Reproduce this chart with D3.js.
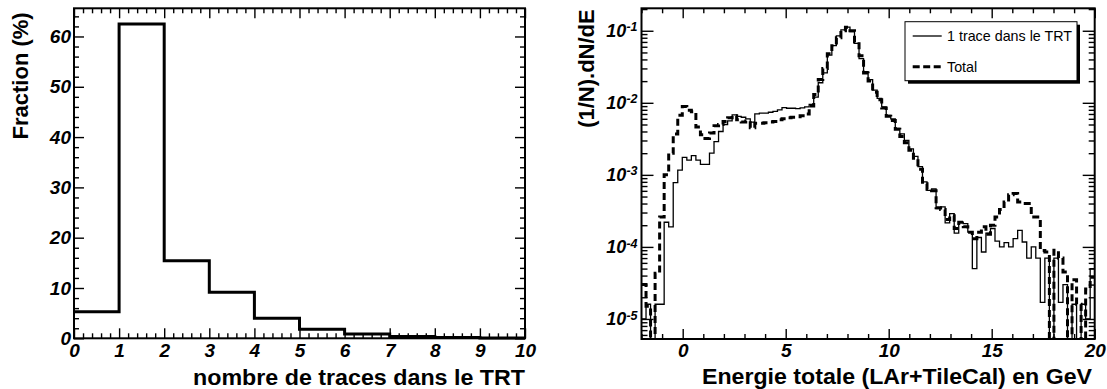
<!DOCTYPE html>
<html>
<head>
<meta charset="utf-8">
<script src="https://cdn.jsdelivr.net/npm/d3@7"></script>
<style>
    body { margin: 0; background: #fff; }
    svg { display: block; font-family: "Liberation Sans", Arial, Helvetica, sans-serif; }
    .lbl { font-weight: bold; font-style: italic; font-size: 19px; fill: #000; }
    .title { font-weight: bold; font-size: 22px; fill: #000; }
    .legend-text { font-size: 14.3px; fill: #000; }
</style>
</head>
<body>
<svg id="chart" width="1107" height="389"></svg>
<script>
/* ========================================
   Two ROOT-style histograms:
   left  = number of TRT tracks (fraction, %)
   right = total energy (LAr+TileCal), log scale
   ======================================== */

// --- Left panel data ---
const trackBins = [0, 1, 2, 3, 4, 5, 6, 7, 8, 9, 10];          // bin edges
const trackFraction = [5.3, 62.5, 15.4, 9.15, 4.0, 1.8, 0.85, 0.35, 0.15, 0.08];
const leftXTicks = [0, 1, 2, 3, 4, 5, 6, 7, 8, 9, 10];
const leftYTicks = [0, 10, 20, 30, 40, 50, 60];

// --- Right panel data (100 bins from -2 to 20 GeV) ---
const energyRange = [-2, 20];
const energyBinCount = 100;
const oneTrack = [
    1.0e-5, 1.6e-5, 0, 1.6e-5, 1.6e-5, 2.2e-4, 1.9e-4, 7.8e-4, 1.16e-3, 1.75e-3,
    1.6e-3, 1.85e-3, 1.6e-3, 1.4e-3, 1.4e-3, 2.0e-3, 2.9e-3, 4.0e-3, 5.0e-3, 5.6e-3,
    6.8e-3, 6.5e-3, 6.3e-3, 6.0e-3, 5.4e-3, 7.0e-3, 7.2e-3, 7.2e-3, 7.4e-3, 7.6e-3,
    8.0e-3, 8.6e-3, 8.4e-3, 8.4e-3, 8.3e-3, 8.5e-3, 8.8e-3, 9.5e-3, 1.2e-2, 1.9e-2,
    2.6e-2, 4.6e-2, 6.2e-2, 8.5e-2, 1.03e-1, 1.12e-1, 9.7e-2, 6.7e-2, 4.1e-2, 2.7e-2,
    2.1e-2, 1.5e-2, 1.15e-2, 8.8e-3, 6.7e-3, 6.0e-3, 4.4e-3, 3.7e-3, 3.0e-3, 2.3e-3,
    1.8e-3, 1.3e-3, 8.0e-4, 6.1e-4, 6.4e-4, 3.4e-4, 3.6e-4, 2.15e-4, 2.9e-4, 1.55e-4,
    2.2e-4, 2.1e-4, 1.6e-4, 5.0e-5, 1.35e-4, 8.5e-5, 1.55e-4, 1.8e-4, 1.2e-4, 1.0e-4,
    1.15e-4, 1.0e-4, 1.3e-4, 1.7e-4, 1.17e-4, 7.0e-5, 1.0e-4, 7.0e-5, 1.7e-5, 7.0e-5,
    0, 7.0e-5, 1.7e-5, 3.0e-5, 0, 1.6e-5, 0, 1.6e-5, 1.0e-5, 5.0e-5
];
const totalAll = [
    3.0e-5, 1.5e-5, 0, 4.3e-5, 2.6e-4, 1.0e-3, 2.0e-3, 3.7e-3, 6.7e-3, 8.9e-3,
    7.9e-3, 7.5e-3, 4.6e-3, 3.6e-3, 3.2e-3, 3.8e-3, 4.8e-3, 5.0e-3, 5.5e-3, 6.2e-3,
    6.6e-3, 5.8e-3, 5.4e-3, 5.6e-3, 4.5e-3, 5.2e-3, 5.2e-3, 5.3e-3, 5.4e-3, 5.5e-3,
    5.8e-3, 6.0e-3, 6.2e-3, 6.3e-3, 6.4e-3, 6.6e-3, 7.0e-3, 9.0e-3, 1.3e-2, 2.1e-2,
    3.0e-2, 4.8e-2, 6.2e-2, 8.0e-2, 1.0e-1, 1.12e-1, 1.0e-1, 7.0e-2, 4.5e-2, 2.6e-2,
    2.0e-2, 1.4e-2, 1.1e-2, 8.5e-3, 6.5e-3, 5.7e-3, 4.3e-3, 3.4e-3, 2.8e-3, 2.2e-3,
    1.7e-3, 1.2e-3, 7.5e-4, 6.3e-4, 6.0e-4, 3.5e-4, 3.3e-4, 2.4e-4, 2.7e-4, 1.8e-4,
    2.2e-4, 1.9e-4, 1.6e-4, 1.3e-4, 1.6e-4, 1.9e-4, 1.5e-4, 2.0e-4, 2.6e-4, 3.3e-4,
    4.2e-4, 5.3e-4, 5.5e-4, 4.2e-4, 4.0e-4, 4.0e-4, 2.6e-4, 2.6e-4, 8.9e-5, 8.5e-5,
    0, 9.0e-5, 7.0e-5, 4.5e-5, 0, 3.5e-5, 1.6e-5, 0, 2.6e-5, 3.8e-5
];
const rightXTicks = [0, 5, 10, 15, 20];
const rightYTicks = [1e-5, 1e-4, 1e-3, 1e-2, 1e-1];
const legendLabels = ['1 trace dans le TRT', 'Total'];

const svg = d3.select('#chart');

// Draws major+minor ticks on all four sides of a frame, ticks pointing inward
function drawTicks(g, xScale, yScale, frame, opt) {
    const major = 10, minor = 5;
    const sets = [
        { axis: d3.axisBottom, scale: xScale, vals: opt.xMajor, size: major, at: `translate(0,${frame.y1})`, labels: opt.xLabels },
        { axis: d3.axisBottom, scale: xScale, vals: opt.xMinor, size: minor, at: `translate(0,${frame.y1})` },
        { axis: d3.axisTop, scale: xScale, vals: opt.xMajor, size: major, at: `translate(0,${frame.y0})` },
        { axis: d3.axisTop, scale: xScale, vals: opt.xMinor, size: minor, at: `translate(0,${frame.y0})` },
        { axis: d3.axisLeft, scale: yScale, vals: opt.yMajor, size: opt.yMajorLen || major, at: `translate(${frame.x0},0)`, labels: opt.yLabels },
        { axis: d3.axisLeft, scale: yScale, vals: opt.yMinor, size: opt.yMinorLen || minor, at: `translate(${frame.x0},0)` },
        { axis: d3.axisRight, scale: yScale, vals: opt.yMajor, size: opt.yMajorLen || major, at: `translate(${frame.x1},0)` },
        { axis: d3.axisRight, scale: yScale, vals: opt.yMinor, size: opt.yMinorLen || minor, at: `translate(${frame.x1},0)` }
    ];
    sets.forEach(s => {
        const ax = s.axis(s.scale).tickValues(s.vals).tickSize(-s.size);
        if (s.labels) ax.tickPadding(s.labels.padding).tickFormat(s.labels.format);
        else ax.tickFormat('');
        const a = g.append('g').attr('transform', s.at).call(ax);
        a.select('.domain').remove();
        a.selectAll('.tick line').attr('stroke', '#000').attr('stroke-width', 1.4);
        a.selectAll('.tick text').attr('class', 'lbl').attr('fill', '#000');
        if (s.labels && s.labels.post) s.labels.post(a);
    });
}

// ========== Left panel ==========
const L = { x0: 74, x1: 525, y0: 8.3, y1: 338.3 };
const xL = d3.scaleLinear().domain([0, 10]).range([L.x0, L.x1]);
const yL = d3.scaleLinear().domain([0, 65.6]).range([L.y1, L.y0]);
const gL = svg.append('g');

const leftStep = d3.line()
    .x(d => xL(d[0]))
    .y(d => yL(d[1]))
    .curve(d3.curveStepAfter);
const leftPts = trackFraction.map((v, i) => [trackBins[i], v]);
leftPts.push([trackBins[trackBins.length - 1], trackFraction[trackFraction.length - 1]]);

gL.append('path')
    .attr('d', leftStep(leftPts))
    .attr('fill', 'none')
    .attr('stroke', '#000')
    .attr('stroke-width', 3);

drawTicks(gL, xL, yL, L, {
    xMajor: leftXTicks,
    xMinor: d3.range(0, 10.001, 0.2).filter(v => Math.abs(v - Math.round(v)) > 1e-6),
    yMajor: leftYTicks,
    yMinor: d3.range(0, 65, 2).filter(v => v % 10 !== 0),
    xLabels: { padding: 5, format: d3.format('d') },
    yLabels: { padding: 3, format: d3.format('d') }
});

gL.append('rect')
    .attr('x', L.x0).attr('y', L.y0)
    .attr('width', L.x1 - L.x0).attr('height', L.y1 - L.y0)
    .attr('fill', 'none').attr('stroke', '#000').attr('stroke-width', 2);

gL.append('text')
    .attr('class', 'title')
    .attr('x', L.x1).attr('y', 385)
    .attr('text-anchor', 'end')
    .attr('textLength', 332)
    .attr('lengthAdjust', 'spacingAndGlyphs')
    .text('nombre de traces dans le TRT');

gL.append('text')
    .attr('class', 'title')
    .attr('transform', `translate(28,${L.y0 + 4}) rotate(-90)`)
    .attr('text-anchor', 'end')
    .text('Fraction (%)');

// ========== Right panel ==========
const R = { x0: 641.5, x1: 1094.7, y0: 8.3, y1: 339 };
const xR = d3.scaleLinear().domain(energyRange).range([R.x0, R.x1]);
const yR = d3.scaleLog().domain([5.27e-6, 0.205]).range([R.y1, R.y0]);
const gR = svg.append('g');

gR.append('clipPath').attr('id', 'clipR')
    .append('rect')
    .attr('x', R.x0).attr('y', R.y0)
    .attr('width', R.x1 - R.x0).attr('height', R.y1 - R.y0);

const binW = (energyRange[1] - energyRange[0]) / energyBinCount;
function stepPoints(vals) {
    const pts = vals.map((v, i) => [energyRange[0] + i * binW, v]);
    pts.push([energyRange[1], vals[vals.length - 1]]);
    return pts;
}
const rightStep = d3.line()
    .x(d => xR(d[0]))
    .y(d => d[1] > 0 ? yR(d[1]) : R.y1 + 2)
    .curve(d3.curveStepAfter);

const histG = gR.append('g').attr('clip-path', 'url(#clipR)');
histG.append('path')
    .attr('d', rightStep(stepPoints(totalAll)))
    .attr('fill', 'none')
    .attr('stroke', '#000')
    .attr('stroke-width', 3)
    .attr('stroke-dasharray', '7,4');
histG.append('path')
    .attr('d', rightStep(stepPoints(oneTrack)))
    .attr('fill', 'none')
    .attr('stroke', '#000')
    .attr('stroke-width', 1.3);

// log minor ticks 2..9 per decade
const logMinor = [];
for (let e = -6; e <= -1; e++) {
    for (let k = 2; k <= 9; k++) {
        const v = k * Math.pow(10, e);
        if (v > yR.domain()[0] && v < yR.domain()[1]) logMinor.push(v);
    }
}

drawTicks(gR, xR, yR, R, {
    xMajor: rightXTicks,
    xMinor: d3.range(-2, 20.5, 1).filter(v => v % 5 !== 0),
    yMajor: rightYTicks,
    yMinor: logMinor,
    yMajorLen: 12,
    yMinorLen: 6,
    xLabels: { padding: 5, format: d3.format('d') },
    yLabels: {
        padding: 4,
        format: d => '10',
        post: a => a.selectAll('.tick text').each(function(d) {
            const t = d3.select(this);
            t.text('').style('font-size', '18px');
            t.append('tspan').text('10');
            t.append('tspan')
                .attr('dy', '-0.45em')
                .style('font-size', '12.5px')
                .text(Math.round(Math.log10(d)));
        })
    }
});

gR.append('rect')
    .attr('x', R.x0).attr('y', R.y0)
    .attr('width', R.x1 - R.x0).attr('height', R.y1 - R.y0)
    .attr('fill', 'none').attr('stroke', '#000').attr('stroke-width', 2);

gR.append('text')
    .attr('class', 'title')
    .attr('x', 1092).attr('y', 384)
    .attr('text-anchor', 'end')
    .attr('textLength', 390)
    .attr('lengthAdjust', 'spacingAndGlyphs')
    .text('Energie totale (LAr+TileCal) en GeV');

gR.append('text')
    .attr('class', 'title')
    .attr('transform', `translate(594,${R.y0 + 1}) rotate(-90)`)
    .attr('text-anchor', 'end')
    .text('(1/N).dN/dE');

// Legend with drop shadow
const lg = { x: 905, y: 21.7, w: 172, h: 59 };
gR.append('rect')
    .attr('x', lg.x + 3).attr('y', lg.y + 3)
    .attr('width', lg.w).attr('height', lg.h)
    .attr('fill', '#000');
gR.append('rect')
    .attr('x', lg.x).attr('y', lg.y)
    .attr('width', lg.w).attr('height', lg.h)
    .attr('fill', '#fff').attr('stroke', '#000').attr('stroke-width', 1);

const legendRows = [
    { label: legendLabels[0], y: 36, width: 1.3, dash: null },
    { label: legendLabels[1], y: 66.7, width: 3, dash: '7,3.5' }
];
legendRows.forEach(r => {
    gR.append('line')
        .attr('x1', 912.7).attr('x2', 941.7)
        .attr('y1', r.y).attr('y2', r.y)
        .attr('stroke', '#000')
        .attr('stroke-width', r.width)
        .attr('stroke-dasharray', r.dash);
    gR.append('text')
        .attr('class', 'legend-text')
        .attr('x', 947).attr('y', r.y + 5)
        .text(r.label);
});
</script>
</body>
</html>
